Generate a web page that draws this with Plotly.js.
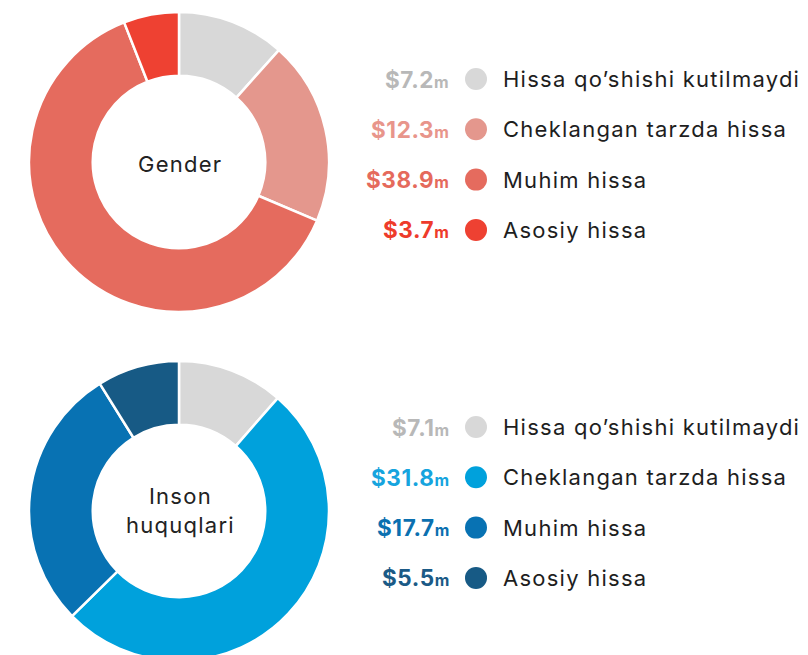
<!DOCTYPE html>
<html>
<head>
<meta charset="utf-8">
<script src="https://cdn.plot.ly/plotly-3.0.1.min.js"></script>
<style>
html,body{margin:0;padding:0;overflow:hidden;background:#fff;}
#chart{width:808px;height:680px;}
</style>
</head>
<body>
<div id="chart"></div>
<script>
// ---- data ----
const categories = ["Hissa qo’shishi kutilmaydi", "Cheklangan tarzda hissa", "Muhim hissa", "Asosiy hissa"];
const genderValues = [7.2, 12.3, 38.9, 3.7];
const humanRightsValues = [7.1, 31.8, 17.7, 5.5];
const genderColors = ["#d8d8d8", "#e4978d", "#e56b5e", "#ee4132"];
const humanColors = ["#d8d8d8", "#00a1dc", "#0872b3", "#175a85"];
const genderTextColors = ["#b8b8b8", "#e8958b", "#e56a5c", "#ee3b2b"];
const humanTextColors = ["#b8b8b8", "#16a4de", "#0b70b0", "#1b5a86"];
const chartTitles = ["Gender", "Inson<br>huquqlari"];

const W = 808, H = 680;
const FONT = "Inter, 'Open Sans', sans-serif";
const LS = "letter-spacing:1.25px";
const px = x => x / W;
const py = y => 1 - y / H;
const spaced = t => t.split("<br>").map(s => "<span style='" + LS + "'>" + s + "</span>").join("<br>");

function pie(values, colors, cx, cy, r) {
  return {
    type: "pie",
    values: values,
    labels: categories,
    sort: false,
    direction: "clockwise",
    rotation: 0,
    hole: 0.575,
    textinfo: "none",
    hoverinfo: "label+value",
    marker: {colors: colors, line: {color: "#ffffff", width: 2.5}},
    domain: {x: [px(cx - r), px(cx + r)], y: [py(cy + r), py(cy - r)]},
    showlegend: false
  };
}

const data = [
  pie(genderValues, genderColors, 179, 162, 150),
  pie(humanRightsValues, humanColors, 179, 511, 150)
];

const annotations = [];
const shapes = [];

function legendBlock(values, colors, textColors, yStart) {
  values.forEach((v, i) => {
    const y = yStart + i * 50.3;
    annotations.push({
      xref: "paper", yref: "paper", x: px(451), y: py(y),
      xanchor: "right", yanchor: "middle", showarrow: false,
      text: "<span style='letter-spacing:0.6px'><b>$" + v.toFixed(1) + "</b></span><span style='font-size:16px'><b>m</b></span>",
      font: {family: FONT, size: 22.5, color: textColors[i]}
    });
    annotations.push({
      xref: "paper", yref: "paper", x: px(501), y: py(y),
      xanchor: "left", yanchor: "middle", showarrow: false,
      text: spaced(categories[i]),
      font: {family: FONT, size: 22, color: "#1e1e1e"}
    });
    const r = 11;
    shapes.push({
      type: "circle", xref: "paper", yref: "paper",
      x0: px(476 - r), x1: px(476 + r), y0: py(y + r), y1: py(y - r),
      fillcolor: colors[i], line: {width: 0}
    });
  });
}
legendBlock(genderValues, genderColors, genderTextColors, 79);
legendBlock(humanRightsValues, humanColors, humanTextColors, 427);

annotations.push({
  xref: "paper", yref: "paper", x: px(180), y: py(164), xanchor: "center", yanchor: "middle",
  showarrow: false, text: spaced(chartTitles[0]), font: {family: FONT, size: 22, color: "#222"}
});
annotations.push({
  xref: "paper", yref: "paper", x: px(180), y: py(510), xanchor: "center", yanchor: "middle",
  showarrow: false, text: spaced(chartTitles[1]), font: {family: FONT, size: 22, color: "#222"}
});

const layout = {
  width: W, height: H,
  margin: {l: 0, r: 0, t: 0, b: 0},
  paper_bgcolor: "#ffffff",
  plot_bgcolor: "#ffffff",
  annotations: annotations,
  shapes: shapes,
  showlegend: false
};

Plotly.newPlot("chart", data, layout, {displayModeBar: false, staticPlot: true});
</script>
</body>
</html>
